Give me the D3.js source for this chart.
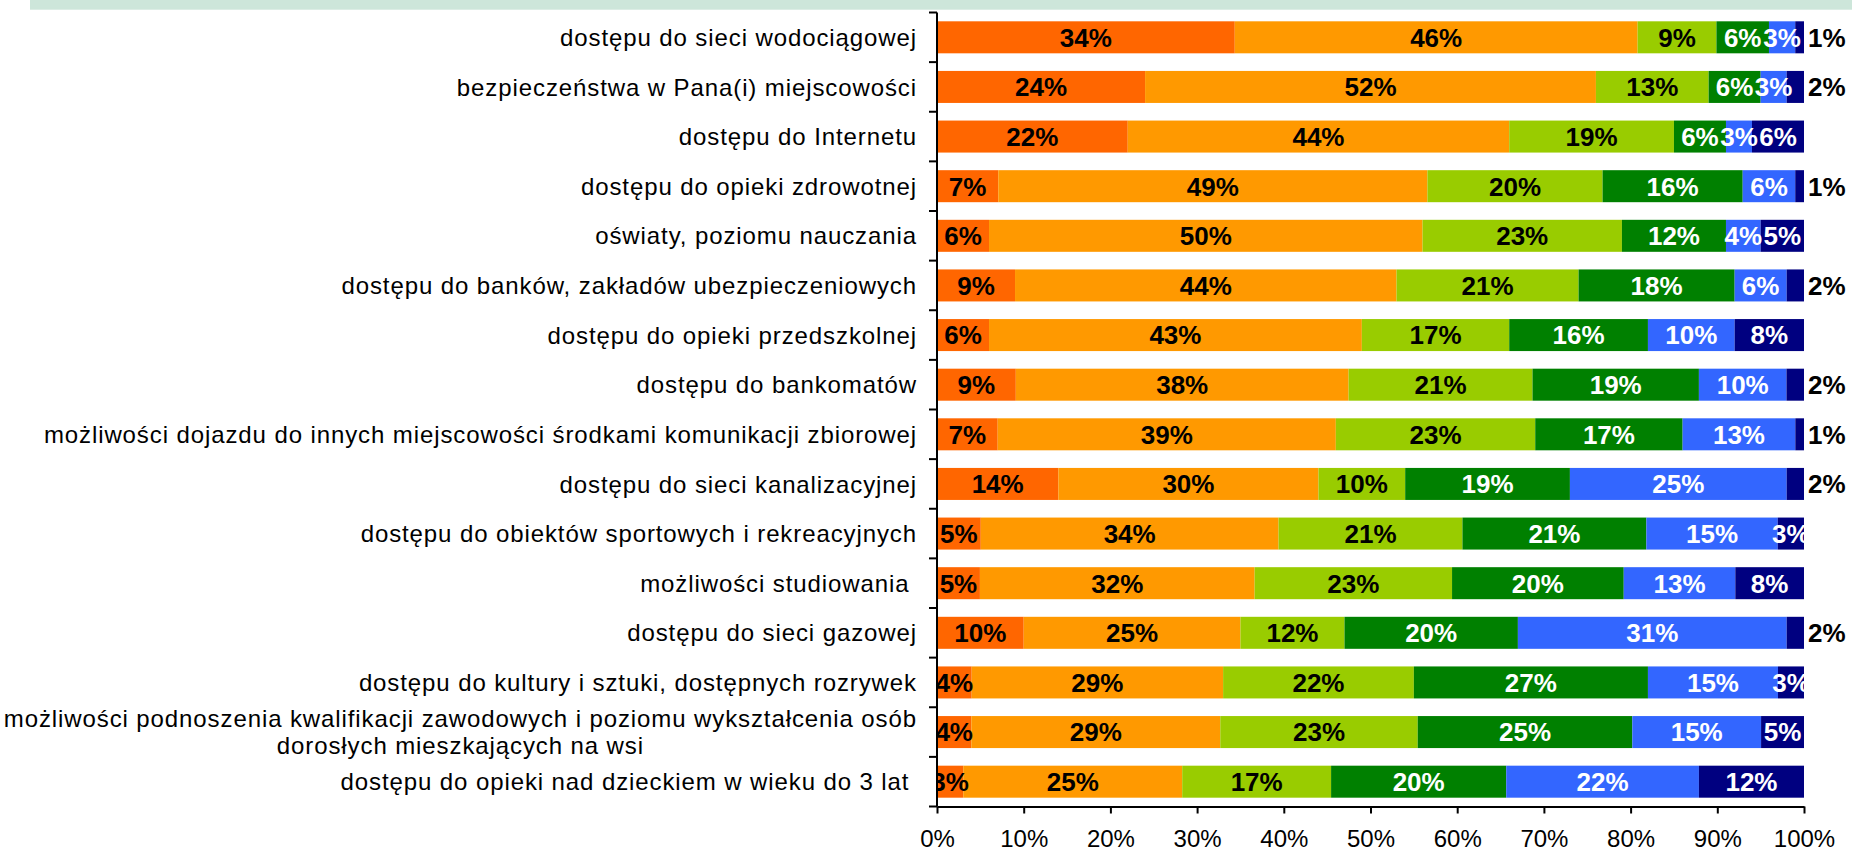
<!DOCTYPE html>
<html>
<head>
<meta charset="utf-8">
<script src="https://cdn.jsdelivr.net/npm/d3@7"></script>
<style>
  html, body { margin: 0; padding: 0; background: #ffffff; }
  svg { display: block; }
  text { font-family: "Liberation Sans", Arial, sans-serif; white-space: pre; }
</style>
</head>
<body>
<svg id="chart" width="1852" height="854"></svg>
<script>
// ---- data ----
const categories = [
  ["dostępu do sieci wodociągowej"],
  ["bezpieczeństwa w Pana(i) miejscowości"],
  ["dostępu do Internetu"],
  ["dostępu do opieki zdrowotnej"],
  ["oświaty, poziomu nauczania"],
  ["dostępu do banków, zakładów ubezpieczeniowych"],
  ["dostępu do opieki przedszkolnej"],
  ["dostępu do bankomatów"],
  ["możliwości dojazdu do innych miejscowości środkami komunikacji zbiorowej"],
  ["dostępu do sieci kanalizacyjnej"],
  ["dostępu do obiektów sportowych i rekreacyjnych"],
  ["możliwości studiowania "],
  ["dostępu do sieci gazowej"],
  ["dostępu do kultury i sztuki, dostępnych rozrywek"],
  ["możliwości podnoszenia kwalifikacji zawodowych i poziomu wykształcenia osób", "dorosłych mieszkających na wsi"],
  ["dostępu do opieki nad dzieckiem w wieku do 3 lat "]
];
const seriesKeys = ["s1", "s2", "s3", "s4", "s5", "s6"];
const s1 = [34, 24, 22, 7, 6, 9, 6, 9, 7, 14, 5, 5, 10, 4, 4, 3];
const s2 = [46, 52, 44, 49, 50, 44, 43, 38, 39, 30, 34, 32, 25, 29, 29, 25];
const s3 = [9, 13, 19, 20, 23, 21, 17, 21, 23, 10, 21, 23, 12, 22, 23, 17];
const s4 = [6, 6, 6, 16, 12, 18, 16, 19, 17, 19, 21, 20, 20, 27, 25, 20];
const s5 = [3, 3, 3, 6, 4, 6, 10, 10, 13, 25, 15, 13, 31, 15, 15, 22];
const s6 = [1, 2, 6, 1, 5, 2, 8, 2, 1, 2, 3, 8, 2, 3, 5, 12];
const tickValues = [0, 0.1, 0.2, 0.3, 0.4, 0.5, 0.6, 0.7, 0.8, 0.9, 1.0];

// ---- styles ----
const colors = ["#ff6600", "#ff9900", "#99cc00", "#008000", "#3366ff", "#000080"];
const labelColors = ["#000000", "#000000", "#000000", "#ffffff", "#ffffff", "#ffffff"];

const seriesArrays = [s1, s2, s3, s4, s5, s6];
const rows = categories.map((c, i) => {
  const r = { id: String(i), lines: c };
  seriesKeys.forEach((k, j) => { r[k] = seriesArrays[j][i]; });
  return r;
});

const svg = d3.select("#chart");

// header band
svg.append("rect").attr("x", 30).attr("y", 0).attr("width", 1822).attr("height", 9.7)
  .attr("fill", "#cde6da");

const x = d3.scaleLinear().domain([0, 1]).range([937, 1804]);
const y = d3.scaleBand().domain(rows.map(r => r.id)).range([12.5, 806.5])
  .paddingInner(0.355).paddingOuter(0.1775);

const stack = d3.stack().keys(seriesKeys).offset(d3.stackOffsetExpand);
const stacked = stack(rows);

// clip for inside labels
svg.append("clipPath").attr("id", "plotclip").append("rect")
  .attr("x", x(0)).attr("y", 0).attr("width", x(1) - x(0)).attr("height", 854);

const layers = svg.append("g").selectAll("g").data(stacked).join("g")
  .attr("fill", (d, i) => colors[i]);

layers.selectAll("rect").data(d => d).join("rect")
  .attr("x", d => x(d[0]))
  .attr("y", d => y(d.data.id))
  .attr("width", d => x(d[1]) - x(d[0]))
  .attr("height", y.bandwidth());

// labels
const labelG = svg.append("g");
stacked.forEach((layer, si) => {
  layer.forEach(d => {
    const v = d.data[layer.key];
    const cy = y(d.data.id) + y.bandwidth() / 2;
    const outside = si === 5 && v <= 2;
    const t = labelG.append("text")
      .attr("y", cy)
      .attr("dy", "0.36em")
      .attr("font-size", 26)
      .attr("font-weight", "bold")
      .text(v + "%");
    if (outside) {
      t.attr("x", x(1) + 4).attr("text-anchor", "start").attr("fill", "#000000");
    } else {
      t.attr("x", (x(d[0]) + x(d[1])) / 2).attr("text-anchor", "middle")
        .attr("fill", labelColors[si]).attr("clip-path", "url(#plotclip)");
    }
  });
});

// x axis
const xAxis = d3.axisBottom(x).tickValues(tickValues).tickFormat(d3.format(".0%"))
  .tickSize(7).tickSizeOuter(0).tickPadding(16);
const gx = svg.append("g").attr("transform", `translate(0,${y.range()[1]})`).call(xAxis);
gx.select(".domain").attr("stroke", "#000").attr("stroke-width", 2);
gx.selectAll(".tick line").attr("stroke", "#000").attr("stroke-width", 2);
gx.selectAll(".tick text").attr("font-size", 24).attr("fill", "#000")
  .attr("font-family", "'Liberation Sans', Arial, sans-serif");

// y axis (ticks at category boundaries)
const gy = svg.append("g");
const y0 = y.range()[0], step = y.step();
gy.append("line").attr("x1", x(0)).attr("x2", x(0)).attr("y1", y0).attr("y2", y.range()[1])
  .attr("stroke", "#000").attr("stroke-width", 2);
gy.selectAll("line.tk").data(d3.range(rows.length + 1)).join("line").attr("class", "tk")
  .attr("x1", x(0) - 8).attr("x2", x(0))
  .attr("y1", i => y0 + i * step).attr("y2", i => y0 + i * step)
  .attr("stroke", "#000").attr("stroke-width", 2);

// category labels
const catG = svg.append("g");
const labelRight = x(0) - 20;
rows.forEach(r => {
  const cy = y(r.id) + y.bandwidth() / 2;
  if (r.lines.length === 1) {
    catG.append("text").attr("x", labelRight).attr("y", cy).attr("dy", "0.36em")
      .attr("text-anchor", "end").attr("font-size", 24).attr("letter-spacing", 0.9)
      .attr("fill", "#000").text(r.lines[0]);
  } else {
    const first = catG.append("text").attr("x", labelRight).attr("y", cy - 13.5).attr("dy", "0.36em")
      .attr("text-anchor", "end").attr("font-size", 24).attr("letter-spacing", 0.9)
      .attr("fill", "#000").text(r.lines[0]);
    const w = first.node().getComputedTextLength();
    first.attr("text-anchor", "middle").attr("x", labelRight - w / 2);
    catG.append("text").attr("x", labelRight - w / 2).attr("y", cy + 13.5).attr("dy", "0.36em")
      .attr("text-anchor", "middle").attr("font-size", 24).attr("letter-spacing", 0.9)
      .attr("fill", "#000").text(r.lines[1]);
  }
});
</script>
</body>
</html>
